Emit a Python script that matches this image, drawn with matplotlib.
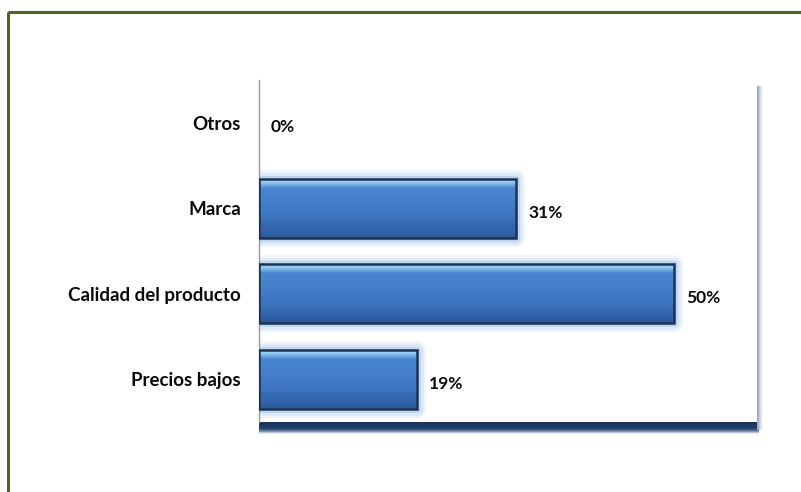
import numpy as np
import matplotlib
matplotlib.use("Agg")
import matplotlib.pyplot as plt
from matplotlib.patches import Rectangle
import matplotlib.patheffects as pe
from matplotlib.colors import LinearSegmentedColormap

# Survey answers (share of respondents), listed top to bottom
categories = ["Otros", "Marca", "Calidad del producto", "Precios bajos"]
shares = [0.00, 0.31, 0.50, 0.19]
value_labels = ["0%", "31%", "50%", "19%"]

W, H = 801, 492
fig = plt.figure(figsize=(W / 100, H / 100), dpi=100)
fig.patch.set_facecolor("white")

# Decoration layer in pixel coordinates (frame + plot-area shadows)
deco = fig.add_axes([0, 0, 1, 1], zorder=0)
deco.axis("off")

# Outer green frame (runs off the right and bottom edges)
deco.add_patch(Rectangle((8, 12), W + 20, H + 20, fill=False,
                         edgecolor="#4f6228", linewidth=2.2))

# Plot area geometry (pixels)
px0, px1, py0, py1 = 259, 757, 80, 422

# Dark shadow under the plot area
shade = LinearSegmentedColormap.from_list(
    "shade", [(0.0, "#1a335c"), (0.55, "#22406c"), (0.75, "#6a7fa0"), (1.0, "#ffffff")])
grad = np.linspace(0, 1, 64).reshape(-1, 1)
deco.imshow(grad, cmap=shade, extent=(px0, px1 + 2, py1 + 12, py1), aspect="auto",
            origin="upper", zorder=1, interpolation="bilinear")
# Soft grey shadow on the right side of the plot area
rshade = LinearSegmentedColormap.from_list("rshade", ["#8f9cb0", "#cfd6e0", "#ffffff"])
deco.imshow(np.linspace(0, 1, 32).reshape(1, -1), cmap=rshade,
            extent=(px1, px1 + 6, py1 + 8, py0 + 6), aspect="auto", zorder=1,
            interpolation="bilinear")
deco.set_xlim(0, W)
deco.set_ylim(H, 0)

ax = fig.add_axes([px0 / W, 1 - py1 / H, (px1 - px0) / W, (py1 - py0) / H], zorder=2)
ax.set_facecolor("white")

ypos = np.arange(len(categories))
bar_h = 0.69
bars = ax.barh(ypos, shares, height=bar_h, color="none", edgecolor="none", zorder=3)

xmax = 0.6
ax.set_xlim(0, xmax)
ax.set_ylim(len(categories) - 0.5, -0.5)

# Pixel to data conversion for styling offsets
dx = xmax / (px1 - px0)

body = LinearSegmentedColormap.from_list(
    "body",
    [(0.0, "#b2e2f8"), (0.07, "#86c0ee"), (0.15, "#4a86d0"),
     (0.6, "#3f78c2"), (0.9, "#2f62a8"), (1.0, "#2a5896")])
col = np.linspace(0, 1, 128).reshape(-1, 1)

for bar in bars:
    x0, y0 = bar.get_x(), bar.get_y()
    w, h = bar.get_width(), bar.get_height()
    if w <= 0:
        continue
    # Soft halo around the bar
    halo = Rectangle((x0, y0), w, h, facecolor="none", edgecolor="#b5d0ef",
                     linewidth=1, zorder=2.5, joinstyle="round")
    halo.set_path_effects([
        pe.Stroke(linewidth=13, foreground="#e6eff9", alpha=0.6, joinstyle="round"),
        pe.Stroke(linewidth=9, foreground="#cfe0f4", alpha=0.6, joinstyle="round"),
        pe.Stroke(linewidth=5, foreground="#b3cdef", alpha=0.7, joinstyle="round"),
    ])
    ax.add_patch(halo)
    # Gradient body
    ax.imshow(col, cmap=body, extent=(x0, x0 + w, y0 + h, y0), origin="upper",
              aspect="auto", zorder=3, interpolation="bilinear")
    # Dark outline
    ax.add_patch(Rectangle((x0, y0), w, h, facecolor="none", edgecolor="#1d3250",
                           linewidth=1.8, zorder=4))

ax.set_xlim(0, xmax)
ax.set_ylim(len(categories) - 0.5, -0.5)

font = "Lato"
for bar, lab in zip(bars, value_labels):
    ax.text(bar.get_width() + 12 * dx, bar.get_y() + bar.get_height() / 2 + 0.05, lab,
            ha="left", va="center", fontsize=12.5, fontweight="bold",
            family=font, color="#0a0a0a", zorder=5)

ax.set_yticks(ypos)
ax.set_yticklabels(categories, fontsize=13.5, fontweight="bold", family=font, color="#0a0a0a")
ax.tick_params(axis="y", length=0, pad=13)
ax.set_xticks([])
for side in ("top", "right", "bottom"):
    ax.spines[side].set_visible(False)
ax.spines["left"].set_color("#9a9a9a")
ax.spines["left"].set_linewidth(1.0)

fig.savefig("out.png", dpi=100, facecolor="white")
